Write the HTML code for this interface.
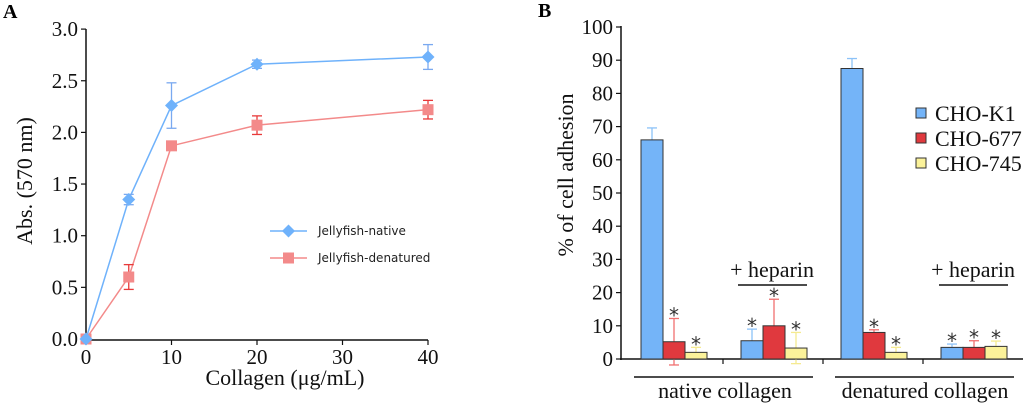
<!DOCTYPE html>
<html><head><meta charset="utf-8">
<style>
html,body{margin:0;padding:0;background:#fff;}
svg{display:block;font-family:"Liberation Serif",serif;}
</style></head>
<body>
<svg id="fig" width="1024" height="403" viewBox="0 0 1024 403" xmlns="http://www.w3.org/2000/svg">
  <text x="3" y="18" font-size="20" font-weight="bold">A</text>
  <text x="538" y="17" font-size="20" font-weight="bold">B</text>
  <g id="chartA"></g>
  <g id="chartB"></g>
</svg>
<script>
// ---- Panel A data ----
const aX = [0, 5, 10, 20, 40];
const aNative = [0, 1.35, 2.26, 2.66, 2.73];
const aNativeErr = [0, 0.05, 0.22, 0.04, 0.12];
const aDenat = [0, 0.60, 1.87, 2.07, 2.22];
const aDenatErr = [0, 0.12, 0.02, 0.09, 0.09];
const aYTicks = ["0.0","0.5","1.0","1.5","2.0","2.5","3.0"];
const aXTicks = ["0","10","20","30","40"];
// ---- Panel B data ----
const bGroups = ["native", "native-heparin", "denatured", "denatured-heparin"];
const bK1 = [66, 5.5, 87.5, 3.5];
const bK1Err = [3.6, 3.5, 3, 1];
const b677 = [5.2, 10, 8, 3.5];
const b677Err = [7, 8, 0.8, 2];
const b745 = [2, 3.3, 2, 3.8];
const b745Err = [1.5, 4.7, 1.5, 1.6];
const bYTicks = ["0","10","20","30","40","50","60","70","80","90","100"];

const NS = "http://www.w3.org/2000/svg";
function mk(parent, tag, attrs, text){
  const e = document.createElementNS(NS, tag);
  for (const k in attrs) e.setAttribute(k, attrs[k]);
  if (text !== undefined) e.textContent = text;
  parent.appendChild(e);
  return e;
}

// ===== Panel A =====
const A = document.getElementById('chartA');
const ax = v => 86 + v * 8.55;
const ay = v => 339 - v * 103.3;
let e;
e = mk(A,'line',{x1:86,y1:29,x2:86,y2:340,stroke:'#111','stroke-width':1.5});
 
e = mk(A,'line',{x1:85,y1:340,x2:428,y2:340,stroke:'#111','stroke-width':1.5});
 
aYTicks.forEach(t=>{
  const y = ay(parseFloat(t));
  mk(A,'line',{x1:81,y1:y,x2:86,y2:y,stroke:'#111','stroke-width':1.2});
  e = mk(A,'text',{x:78,y:y+7,'font-size':21,'text-anchor':'end',fill:'#111'},t);
   
});
aXTicks.forEach(t=>{
  const x = ax(parseFloat(t));
  mk(A,'line',{x1:x,y1:340,x2:x,y2:345,stroke:'#111','stroke-width':1.2});
  e = mk(A,'text',{x:x,y:364,'font-size':21,'text-anchor':'middle',fill:'#111'},t);
   
});
e = mk(A,'text',{x:285,y:385,'font-size':22,'text-anchor':'middle',fill:'#111'},'Collagen (μg/mL)');
 
e = mk(A,'text',{x:0,y:0,'font-size':22,'text-anchor':'middle',fill:'#111',transform:'translate(32,181) rotate(-90)'},'Abs. (570 nm)');
 

function seriesA(xs, ys, errs, color, ecolor, marker, name){
  const g = mk(A,'g',{});
   
  mk(g,'polyline',{points: xs.map((x,i)=>ax(x)+','+ay(ys[i])).join(' '), fill:'none', stroke:color,'stroke-width':1.5});
  xs.forEach((x,i)=>{
    const cx = ax(x), cy = ay(ys[i]);
    if (errs[i] > 0){
      const t = ay(ys[i]+errs[i]), b = ay(ys[i]-errs[i]);
      mk(g,'line',{x1:cx,y1:t,x2:cx,y2:b,stroke:ecolor,'stroke-width':1.3});
      mk(g,'line',{x1:cx-5,y1:t,x2:cx+5,y2:t,stroke:ecolor,'stroke-width':1.3});
      mk(g,'line',{x1:cx-5,y1:b,x2:cx+5,y2:b,stroke:ecolor,'stroke-width':1.3});
    }
    let m;
    if (marker==='diamond') m = mk(g,'polygon',{points:`${cx},${cy-6.5} ${cx+6.5},${cy} ${cx},${cy+6.5} ${cx-6.5},${cy}`, fill:color});
    else m = mk(g,'rect',{x:cx-5.5,y:cy-5.5,width:11,height:11,fill:color});
     
  });
}
seriesA(aX, aDenat, aDenatErr, '#f38a8a', '#e83a3a', 'square', 'series-denatured');
seriesA(aX, aNative, aNativeErr, '#6fb2fb', '#7aa9f0', 'diamond', 'series-native');

// legend A
const legA = mk(A,'g',{});
 
mk(legA,'line',{x1:270,y1:231,x2:307,y2:231,stroke:'#6fb2fb','stroke-width':1.5});
mk(legA,'polygon',{points:'288.5,224.5 295,231 288.5,237.5 282,231',fill:'#6fb2fb'});
e = mk(legA,'text',{x:318,y:235,'font-size':12,'font-family':'DejaVu Sans, sans-serif',fill:'#222'},'Jellyfish-native');
 
mk(legA,'line',{x1:270,y1:258,x2:307,y2:258,stroke:'#f38a8a','stroke-width':1.5});
mk(legA,'rect',{x:283,y:252.5,width:11,height:11,fill:'#f38a8a'});
e = mk(legA,'text',{x:318,y:262,'font-size':12,'font-family':'DejaVu Sans, sans-serif',fill:'#222'},'Jellyfish-denatured');
 

// ===== Panel B =====
const B = document.getElementById('chartB');
const by = v => 359 - v * 3.32;
const bgx = i => 621 + i * 100;
e = mk(B,'line',{x1:621,y1:26,x2:621,y2:360,stroke:'#111','stroke-width':1.5});
 
e = mk(B,'line',{x1:620,y1:359,x2:1023,y2:359,stroke:'#111','stroke-width':1.5});
 
bYTicks.forEach(t=>{
  const y = by(parseFloat(t));
  mk(B,'line',{x1:616,y1:y,x2:621,y2:y,stroke:'#111','stroke-width':1.2});
  e = mk(B,'text',{x:613,y:y+7,'font-size':21,'text-anchor':'end',fill:'#111'},t);
   
});
[1,2,3].forEach(i=>mk(B,'line',{x1:bgx(i)+2,y1:359,x2:bgx(i)+2,y2:364,stroke:'#111','stroke-width':1.2}));
e = mk(B,'text',{x:0,y:0,'font-size':22,'text-anchor':'middle',fill:'#111',transform:'translate(573,175) rotate(-90)'},'% of cell adhesion');
 

const series = [
  {v:bK1, err:bK1Err, fill:'#74b4f8', ec:'#8cc2f8', name:'bar-cho-k1', star:[false,true,false,true]},
  {v:b677, err:b677Err, fill:'#e0393e', ec:'#f07070', name:'bar-cho-677', star:[true,true,true,true], lower:[true,false,false,false]},
  {v:b745, err:b745Err, fill:'#fbf29a', ec:'#f5ea90', name:'bar-cho-745', star:[true,true,true,true], lower:[false,true,false,false]}
];
bGroups.forEach((grp,gi)=>{
  series.forEach((s,si)=>{
    const x0 = bgx(gi) + 20 + si*22;
    const cx = x0 + 11;
    const top = by(s.v[gi]);
    const et = by(s.v[gi] + s.err[gi]);
    const eb = (s.lower && s.lower[gi]) ? by(s.v[gi] - s.err[gi]) : top;
    mk(B,'line',{x1:cx,y1:et,x2:cx,y2:eb,stroke:s.ec,'stroke-width':1.3});
    mk(B,'line',{x1:cx-5,y1:et,x2:cx+5,y2:et,stroke:s.ec,'stroke-width':1.3});
    if (s.lower && s.lower[gi]) mk(B,'line',{x1:cx-5,y1:eb,x2:cx+5,y2:eb,stroke:s.ec,'stroke-width':1.3});
    const r = mk(B,'rect',{x:x0,y:top,width:22,height:359-top,fill:s.fill,stroke:'#333','stroke-width':1});
     
    if (s.star[gi]){
      const st = mk(B,'text',{x:cx,y:et+4,'font-size':20,'text-anchor':'middle',fill:'#333','font-family':'DejaVu Sans, sans-serif'},'*');
       
    }
  });
});

// heparin labels
[[772,738,807],[973,939,1008]].forEach(h=>{
  e = mk(B,'text',{x:h[0],y:277,'font-size':22,'text-anchor':'middle',fill:'#111'},'+ heparin');
   
  mk(B,'line',{x1:h[1],y1:285,x2:h[2],y2:285,stroke:'#111','stroke-width':1.5});
});
// group labels
[[725,634,813,'native collagen'],[925,835,1014,'denatured collagen']].forEach(h=>{
  mk(B,'line',{x1:h[1],y1:377,x2:h[2],y2:377,stroke:'#111','stroke-width':1.5});
  e = mk(B,'text',{x:h[0],y:398,'font-size':22,'text-anchor':'middle',fill:'#111'},h[3]);
   
});
// legend B
const legB = mk(B,'g',{});
 
[['CHO-K1','#74b4f8',113],['CHO-677','#e0393e',138],['CHO-745','#fbf29a',163]].forEach(l=>{
  mk(legB,'rect',{x:916,y:l[2]-5,width:10,height:10,fill:l[1],stroke:'#333','stroke-width':1});
  e = mk(legB,'text',{x:935,y:l[2]+8,'font-size':22,fill:'#111'},l[0]);
   
});
</script>
</body></html>
